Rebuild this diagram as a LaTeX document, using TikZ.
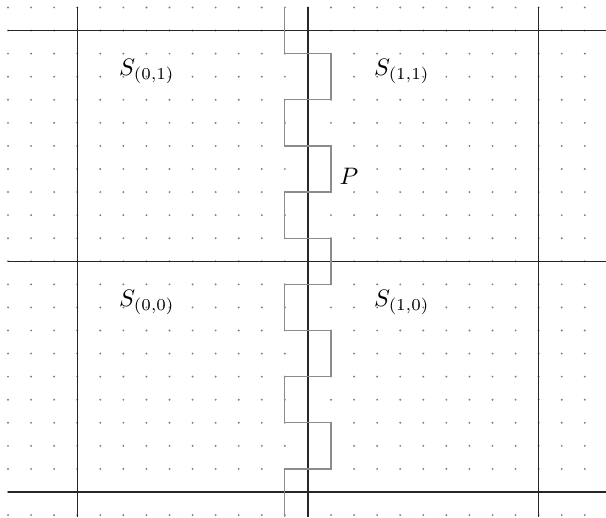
\documentclass[tikz,border=0pt]{standalone}
\begin{document}
\begin{tikzpicture}[x=0.34cm,y=0.34cm,
  gridline/.style={black!85,line width=0.55pt},
  zig/.style={black!45,line width=0.5pt},
  griddot/.style={fill=black!50,draw=none},
  lbl/.style={anchor=base,inner sep=0pt}]
\useasboundingbox (-0.347,0.325) rectangle (25.919,-22.104);
% dots
\foreach \i in {0,...,25}{
  \foreach \j in {0,...,22}{
    \fill[griddot] (\i,-\j) circle (0.45pt);
  }
}
% major lines
\foreach \j in {1,11,21}{
  \draw[gridline] (0,-\j) -- (25.919,-\j);
}
\foreach \i in {3,13,23}{
  \draw[gridline] (\i,0) -- (\i,-22.104);
}
% zigzag path
\draw[zig] (12,0) -- (12,-2) -- (14,-2) -- (14,-4) -- (12,-4) -- (12,-6) -- (14,-6) -- (14,-8) -- (12,-8) -- (12,-10) -- (14,-10) -- (14,-12) -- (12,-12) -- (12,-14) -- (14,-14) -- (14,-16) -- (12,-16) -- (12,-18) -- (14,-18) -- (14,-20) -- (12,-20) -- (12,-22.104);
% labels
\node[lbl] (s01) at (6.02,-2.95) {$S_{(0,1)}$};
\node[lbl] (s11) at (17.07,-2.95) {$S_{(1,1)}$};
\node[lbl] (s00) at (6.02,-12.95) {$S_{(0,0)}$};
\node[lbl] (s10) at (17.07,-12.95) {$S_{(1,0)}$};
\node[anchor=base west,inner sep=0pt] (p) at (14.35,-7.69) {$P$};
\end{tikzpicture}
\end{document}
